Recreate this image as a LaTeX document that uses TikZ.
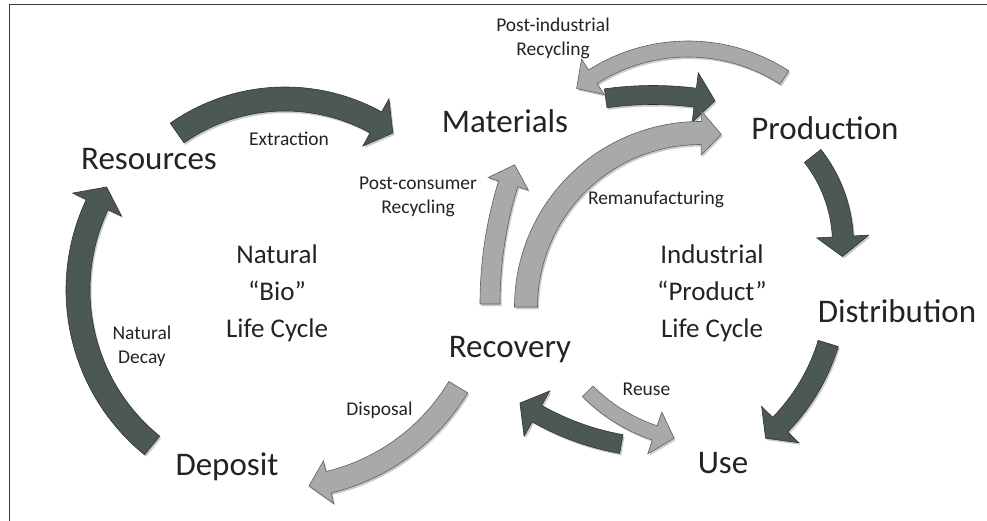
\documentclass[tikz,border=0pt]{standalone}
\usepackage{fontspec}
\setmainfont{Carlito}
\usepackage{tikz}
\usetikzlibrary{shadows}
\definecolor{arrowdark}{RGB}{76,88,83}
\definecolor{arrowlight}{RGB}{168,170,168}
\definecolor{edgedark}{RGB}{45,50,48}
\definecolor{edgelight}{RGB}{95,95,95}
\definecolor{txt}{RGB}{35,35,35}
\definecolor{framegray}{RGB}{60,60,60}

\begin{document}
\begin{tikzpicture}[x=1pt,y=1pt,
	big/.style={font=\fontsize{33}{36}\selectfont, text=txt, inner sep=0pt, anchor=base},
	mid/.style={font=\fontsize{27}{37}\selectfont, text=txt, inner sep=0pt, anchor=base, align=center},
	small/.style={font=\fontsize{19.5}{24}\selectfont, text=txt, inner sep=0pt, anchor=base, align=center},
	dark/.style={fill=arrowdark, draw=edgedark},
	light/.style={fill=arrowlight, draw=edgelight},
	shade/.style={drop shadow={shadow xshift=1.5pt, shadow yshift=-2pt, opacity=0.35, fill=black!60}}]
\useasboundingbox (0,0) rectangle (987,-521);
\draw[line width=1.3pt, framegray] (987,-4.5) -- (9.5,-4.5) -- (9.5,-521);
\foreach \s/\cx/\cy/\r/\a/\b/\w/\h in {dark/278/-290/200/231/149/24/27, dark/285/-287/188/125/55/24/27, light/280/-280/208/-31/-82/22/22, light/897/-304/407/180/160/20/21, light/688/-226/177/57/129/16/21, dark/653/-435/340/98/79.5/19/25, light/700/-307/174/180/83/23/22, dark/700/-244/143/38/-5/21/26, dark/637/-285/200/-17/-50/21/26, light/710/-269/173/225/258/15/22, dark/667/-185/263/260/236/19/26}
{
	\pgfmathsetmacro{\rOut}{\r+\w/2}
	\pgfmathsetmacro{\rIn}{\r-\w/2}
	\pgfmathsetmacro{\rHo}{\r+\h}
	\pgfmathsetmacro{\rHi}{\r-\h}
	\pgfmathsetmacro{\aBase}{\b-sign(\b-\a)*20/\r*180/pi}
	\begin{scope}[shift={(\cx,\cy)}]
	\filldraw[\s, shade, line width=0.6pt] (\a:\rOut pt) arc[start angle=\a, end angle=\aBase, radius=\rOut pt] -- (\aBase:\rHo pt) -- (\b:\r pt) -- (\aBase:\rHi pt) -- (\aBase:\rIn pt) arc[start angle=\aBase, end angle=\a, radius=\rIn pt] -- cycle;
	\end{scope}
}
\node[big] (resources) at (149,-170) {Resources};
\node[big] (materials) at (505,-133) {Materials};
\node[big] (production) at (825,-140) {Production};
\node[big] (distribution) at (897,-322) {Distribution};
\node[big] (use) at (723,-473) {Use};
\node[big] (recovery) at (510,-357) {Recovery};
\node[big] (deposit) at (227,-475) {Deposit};
\node[mid] (bio) at (277,-337) {Natural\\“Bio”\\Life Cycle};
\node[mid] (product) at (712,-337) {Industrial\\“Product”\\Life Cycle};
\node[small] (extraction) at (289,-146) {Extraction};
\node[small] (postcons) at (418,-214) {Post-consumer\\Recycling};
\node[small] (postind) at (553,-56) {Post-industrial\\Recycling};
\node[small] (reman) at (656,-205) {Remanufacturing};
\node[small] (decay) at (142,-363) {Natural\\Decay};
\node[small] (disposal) at (379.5,-415) {Disposal};
\node[small] (reuse) at (646.5,-395) {Reuse};
\end{tikzpicture}
\end{document}
